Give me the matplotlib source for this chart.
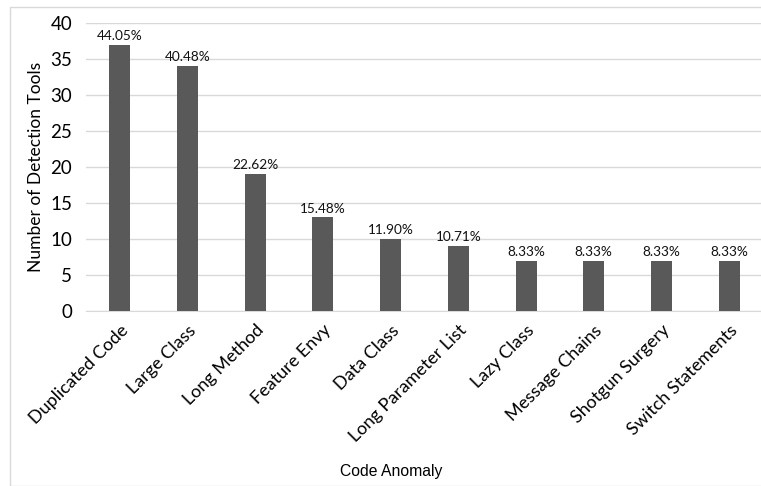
import matplotlib.pyplot as plt
from matplotlib.patches import Rectangle

anomalies = ['Duplicated Code', 'Large Class', 'Long Method', 'Feature Envy',
             'Data Class', 'Long Parameter List', 'Lazy Class', 'Message Chains',
             'Shotgun Surgery', 'Switch Statements']
tools = [37, 34, 19, 13, 10, 9, 7, 7, 7, 7]
percent = ['44.05%', '40.48%', '22.62%', '15.48%', '11.90%', '10.71%',
           '8.33%', '8.33%', '8.33%', '8.33%']
yticks = [0, 5, 10, 15, 20, 25, 30, 35, 40]

W, H = 761, 486
fig = plt.figure(figsize=(W / 100, H / 100), dpi=100)
ax = fig.add_axes([86 / W, 1 - 311 / H, 677 / W, 288 / H])

font = 'Lato'
x = range(len(anomalies))
bars = ax.bar(x, tools, width=0.31, color='#595959', zorder=3)
for b, p in zip(bars, percent):
    ax.annotate(p, (b.get_x() + b.get_width() / 2, b.get_height()),
                xytext=(0, 2), textcoords='offset points', ha='center', va='bottom',
                fontsize=9.8, family=font, color='#111111')

ax.set_xlim(-0.5, 9.5)
ax.set_ylim(0, 40)
ax.set_yticks(yticks)
ax.set_yticklabels([str(v) for v in yticks], fontsize=13.5, family=font)
ax.set_xticks(list(x))
ax.set_xticklabels(anomalies, rotation=45, ha='right', rotation_mode='anchor',
                   fontsize=13, family=font)
ax.tick_params(axis='y', length=0, pad=10)
ax.tick_params(axis='x', length=0, pad=8)
ax.grid(axis='y', color='#d9d9d9', linewidth=1, zorder=0)
for s in ['top', 'right', 'left']:
    ax.spines[s].set_visible(False)
ax.spines['bottom'].set_color('#d9d9d9')

fig.text(36 / W, 1 - 167 / H, 'Number of Detection Tools', rotation=90,
         ha='center', va='center', fontsize=12.5, family=font)
fig.text(391 / W, 1 - 471 / H, 'Code Anomaly', ha='center', va='center',
         fontsize=11.3, family='Liberation Sans')

fig.patches.append(Rectangle((10 / W, 0), 1, 1 - 7 / H, transform=fig.transFigure,
                             fill=False, edgecolor='#d9d9d9', linewidth=1))

fig.savefig('out.png', dpi=100)
